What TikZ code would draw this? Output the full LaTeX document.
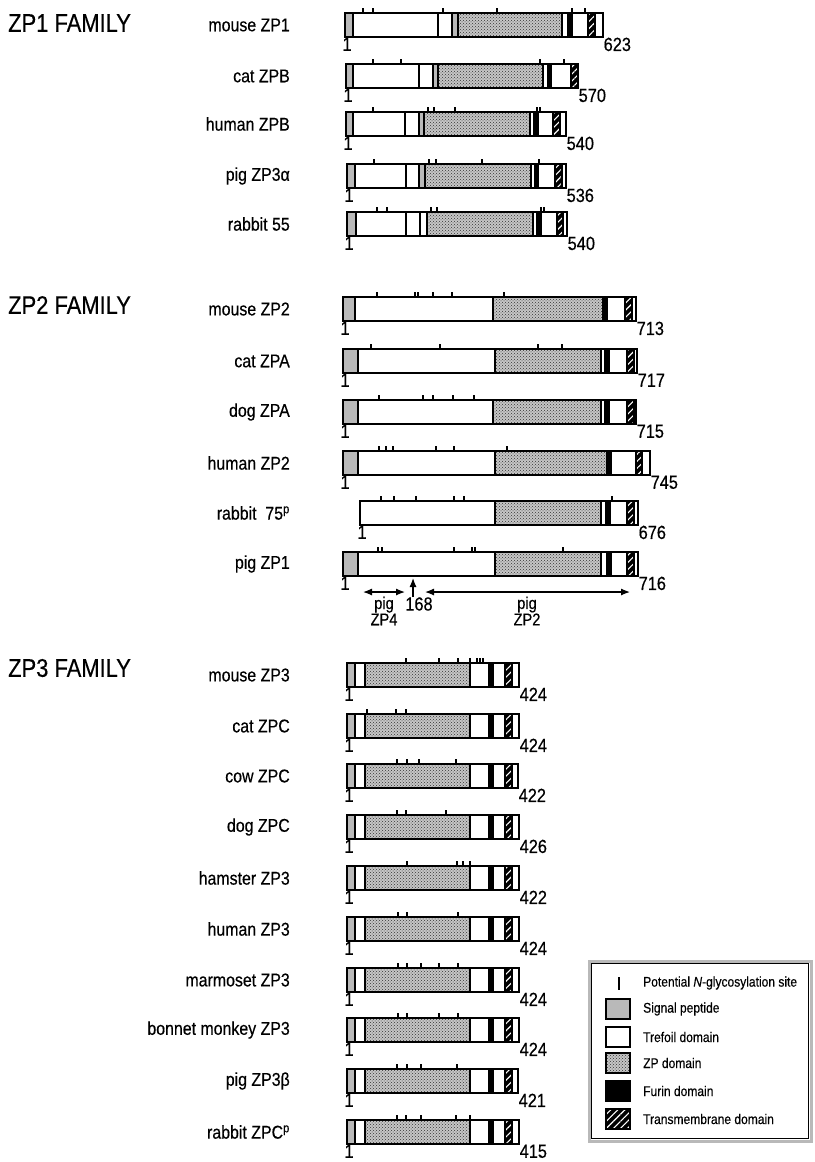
\documentclass[tikz,border=0pt]{standalone}
\usepackage{fontspec}
\setmainfont{Liberation Sans}[FakeStretch=0.86, FakeBold=0.4]
\usetikzlibrary{arrows.meta,patterns,patterns.meta}
% one protein: name, label, top, left, right, segments, glycosylation sites, length
\newcommand{\zpbar}[8]{%
  \node[lab] (#1) at (290,#3+12) {#2};
  \foreach \xa/\xb/\sty in {#6} \draw[\sty] (\xa,#3) rectangle (\xb,#3+24);
  \foreach \t in {#7} \draw[glyco] (\t,#3) -- (\t,#3-5);
  \node[num, anchor=north] (#1-first) at (#4+2,#3+24) {1};
  \node[num, anchor=north west] (#1-last) at (#5,#3+24) {#8};
}

\begin{document}
\begin{tikzpicture}[x=1pt, y=-1pt,
  lab/.style={anchor=east, inner sep=0pt, font=\fontsize{18.5}{20}\selectfont},
  num/.style={inner sep=0.5pt, font=\fontsize{19}{20}\selectfont},
  fam/.style={anchor=west, inner sep=0pt, font=\fontsize{25.5}{28}\selectfont},
  key/.style={anchor=west, inner sep=0pt, font=\fontsize{14}{16}\selectfont},
  sig/.style={draw, line width=1.3pt, fill=gray!55},
  tre/.style={draw, line width=1.3pt, fill=white},
  zpd/.style={draw, line width=1.3pt, preaction={fill=gray!45}, pattern=crosshatch dots, pattern color=black!80},
  fur/.style={draw, line width=1.3pt, fill=black},
  tmd/.style={draw, line width=1.3pt, preaction={fill=black}, pattern={Lines[angle=45,distance=5pt,line width=1.1pt]}, pattern color=white},
  glyco/.style={line width=1.2pt},
  arr/.style={{Latex[length=9pt,width=7pt]}-{Latex[length=9pt,width=7pt]}, line width=1.2pt},
  uparr/.style={-{Latex[length=9pt,width=7pt]}, line width=1.2pt},
  swatch/.style={minimum width=24pt, minimum height=20pt, inner sep=0pt}
]
\useasboundingbox (0,0) rectangle (814,1162);

% ZP1 family
\node[fam] (zp1fam) at (8,23) {ZP1 FAMILY};
\zpbar{mzp1}{mouse ZP1}{13}{345}{603}
  {345/353/sig, 353/438/tre, 438/452/tre, 452/458/sig, 458/562/zpd, 562/568/tre, 568/572/fur, 572/588/tre, 588/595/tmd, 595/603/tre}
  {363,373,443,497,572,585}{623}
\zpbar{czpb}{cat ZPB}{64}{346}{578}
  {346/353/sig, 353/419/tre, 419/433/tre, 433/438/sig, 438/543/zpd, 543/548/tre, 548/551/fur, 551/571/tre, 571/578/tmd}
  {373,401,540,564}{570}
\zpbar{hzpb}{human ZPB}{112}{346}{566}
  {346/353/sig, 353/405/tre, 405/419/tre, 419/424/sig, 424/530/zpd, 530/534/tre, 534/538/fur, 538/553/tre, 553/560/tmd, 560/566/tre}
  {373,428,434,455,537,540}{540}
\zpbar{pzp3a}{pig ZP3α}{164}{347}{566}
  {347/355/sig, 355/406/tre, 406/419/tre, 419/425/sig, 425/531/zpd, 531/535/tre, 535/538/fur, 538/555/tre, 555/562/tmd, 562/566/tre}
  {374,429,436,482,539}{536}
\zpbar{r55}{rabbit 55}{212}{347}{567}
  {347/356/sig, 356/406/tre, 406/420/tre, 420/427/tre, 427/533/zpd, 533/537/tre, 537/541/fur, 541/557/tre, 557/563/tmd, 563/567/tre}
  {377,387,431,437,541,544}{540}

% ZP2 family
\node[fam] (zp2fam) at (8,305) {ZP2 FAMILY};
\zpbar{mzp2}{mouse ZP2}{297}{343}{636}
  {343/355/sig, 355/493/tre, 493/603/zpd, 603/607/fur, 607/625/tre, 625/632/tmd, 632/636/tre}
  {377,415,418,433,452,504}{713}
\zpbar{czpa}{cat ZPA}{349}{343}{637}
  {343/358/sig, 358/495/tre, 495/601/zpd, 601/605/tre, 605/609/fur, 609/627/tre, 627/634/tmd, 634/637/tre}
  {371,440,538,562}{717}
\zpbar{dzpa}{dog ZPA}{400}{343}{636}
  {343/358/sig, 358/493/tre, 493/601/zpd, 601/605/tre, 605/609/fur, 609/627/tre, 627/634/tmd, 634/636/tre}
  {379,423,433,453,474}{715}
\zpbar{hzp2}{human ZP2}{451}{343}{650}
  {343/358/sig, 358/495/tre, 495/607/zpd, 607/611/fur, 611/636/tre, 636/642/tmd, 642/650/tre}
  {379,386,393,436,454,507}{745}
\zpbar{r75}{rabbit\ \ 75\textsuperscript{p}}{501}{360}{638}
  {360/495/tre, 495/601/zpd, 601/606/tre, 606/610/fur, 610/627/tre, 627/634/tmd, 634/638/tre}
  {381,394,416,454,464,612}{676}
\zpbar{pzp1}{pig ZP1}{552}{343}{638}
  {343/358/sig, 358/495/tre, 495/601/zpd, 601/607/tre, 607/611/fur, 611/627/tre, 627/634/tmd, 634/638/tre}
  {378,382,454,472,475,563}{716}

% pig ZP1 cleavage
\coordinate (p4a) at (363,592);
\coordinate (p4b) at (405,592);
\coordinate (p2a) at (425,592);
\coordinate (p2b) at (630,592);
\coordinate (cut) at (413,578);
\node[num, inner sep=0pt] (c168) at (419,604) {168};
\node[num, inner sep=0pt, align=center, font=\fontsize{17}{13}\selectfont] (lp4) at (384,611) {pig\\ZP4};
\node[num, inner sep=0pt, align=center, font=\fontsize{17}{13}\selectfont] (lp2) at (527,611) {pig\\ZP2};
\draw[arr] (p4a) -- (p4b);
\draw[arr] (p2a) -- (p2b);
\draw[uparr] (c168.north -| cut) -- (cut);

% ZP3 family
\node[fam] (zp3fam) at (8,668) {ZP3 FAMILY};
\zpbar{mzp3}{mouse ZP3}{663}{347}{519}
  {347/355/sig, 355/365/tre, 365/470/zpd, 470/489/tre, 489/493/fur, 493/505/tre, 505/512/tmd, 512/519/tre}
  {406,439,458,470,477,480,483}{424}
\zpbar{czpc}{cat ZPC}{714}{347}{519}
  {347/355/sig, 355/365/tre, 365/470/zpd, 470/489/tre, 489/493/fur, 493/505/tre, 505/512/tmd, 512/519/tre}
  {367,396,406}{424}
\zpbar{cowzpc}{cow ZPC}{764}{347}{518}
  {347/355/sig, 355/365/tre, 365/470/zpd, 470/489/tre, 489/493/fur, 493/505/tre, 505/512/tmd, 512/518/tre}
  {397,407,419,456}{422}
\zpbar{dzpc}{dog ZPC}{815}{347}{519}
  {347/355/sig, 355/365/tre, 365/470/zpd, 470/489/tre, 489/493/fur, 493/505/tre, 505/512/tmd, 512/519/tre}
  {397,406,446}{426}
\zpbar{hamzp3}{hamster ZP3}{866}{347}{519}
  {347/355/sig, 355/365/tre, 365/470/zpd, 470/489/tre, 489/493/fur, 493/505/tre, 505/512/tmd, 512/519/tre}
  {407,457,463,470}{422}
\zpbar{hzp3}{human ZP3}{917}{347}{519}
  {347/355/sig, 355/365/tre, 365/470/zpd, 470/489/tre, 489/493/fur, 493/505/tre, 505/512/tmd, 512/519/tre}
  {398,407,458}{424}
\zpbar{marzp3}{marmoset ZP3}{968}{347}{519}
  {347/355/sig, 355/365/tre, 365/470/zpd, 470/489/tre, 489/493/fur, 493/505/tre, 505/512/tmd, 512/519/tre}
  {398,407,421,439,458}{424}
\zpbar{bmzp3}{bonnet monkey ZP3}{1018}{347}{519}
  {347/355/sig, 355/365/tre, 365/470/zpd, 470/489/tre, 489/493/fur, 493/505/tre, 505/512/tmd, 512/519/tre}
  {398,407,439,458}{424}
\zpbar{pzp3b}{pig ZP3β}{1069}{347}{518}
  {347/355/sig, 355/365/tre, 365/470/zpd, 470/489/tre, 489/493/fur, 493/505/tre, 505/512/tmd, 512/518/tre}
  {397,407,421,457}{421}
\zpbar{rzpc}{rabbit ZPC\textsuperscript{p}}{1120}{347}{519}
  {347/355/sig, 355/365/tre, 365/470/zpd, 470/489/tre, 489/493/fur, 493/505/tre, 505/512/tmd, 512/519/tre}
  {397,406,421,456,470}{415}

% legend
\draw[line width=3pt, gray!55] (589,961) rectangle (811,1141);
\draw[line width=0.6pt] (591.5,963.5) rectangle (808.5,1138.5);
\draw[glyco] (619,977) -- (619,990);
\node[key] (k-gly) at (643,983) {Potential \textit{N}-glycosylation site};
\node[sig, swatch] (s-sig) at (618,1009) {};
\node[key] (k-sig) at (643,1009) {Signal peptide};
\node[tre, swatch] (s-tre) at (618,1037) {};
\node[key] (k-tre) at (643,1037) {Trefoil domain};
\node[zpd, swatch] (s-zpd) at (618,1063) {};
\node[key] (k-zpd) at (643,1063) {ZP domain};
\node[fur, swatch] (s-fur) at (618,1091) {};
\node[key] (k-fur) at (643,1091) {Furin domain};
\node[tmd, swatch] (s-tmd) at (618,1119) {};
\node[key] (k-tmd) at (643,1119) {Transmembrane domain};
\end{tikzpicture}
\end{document}
